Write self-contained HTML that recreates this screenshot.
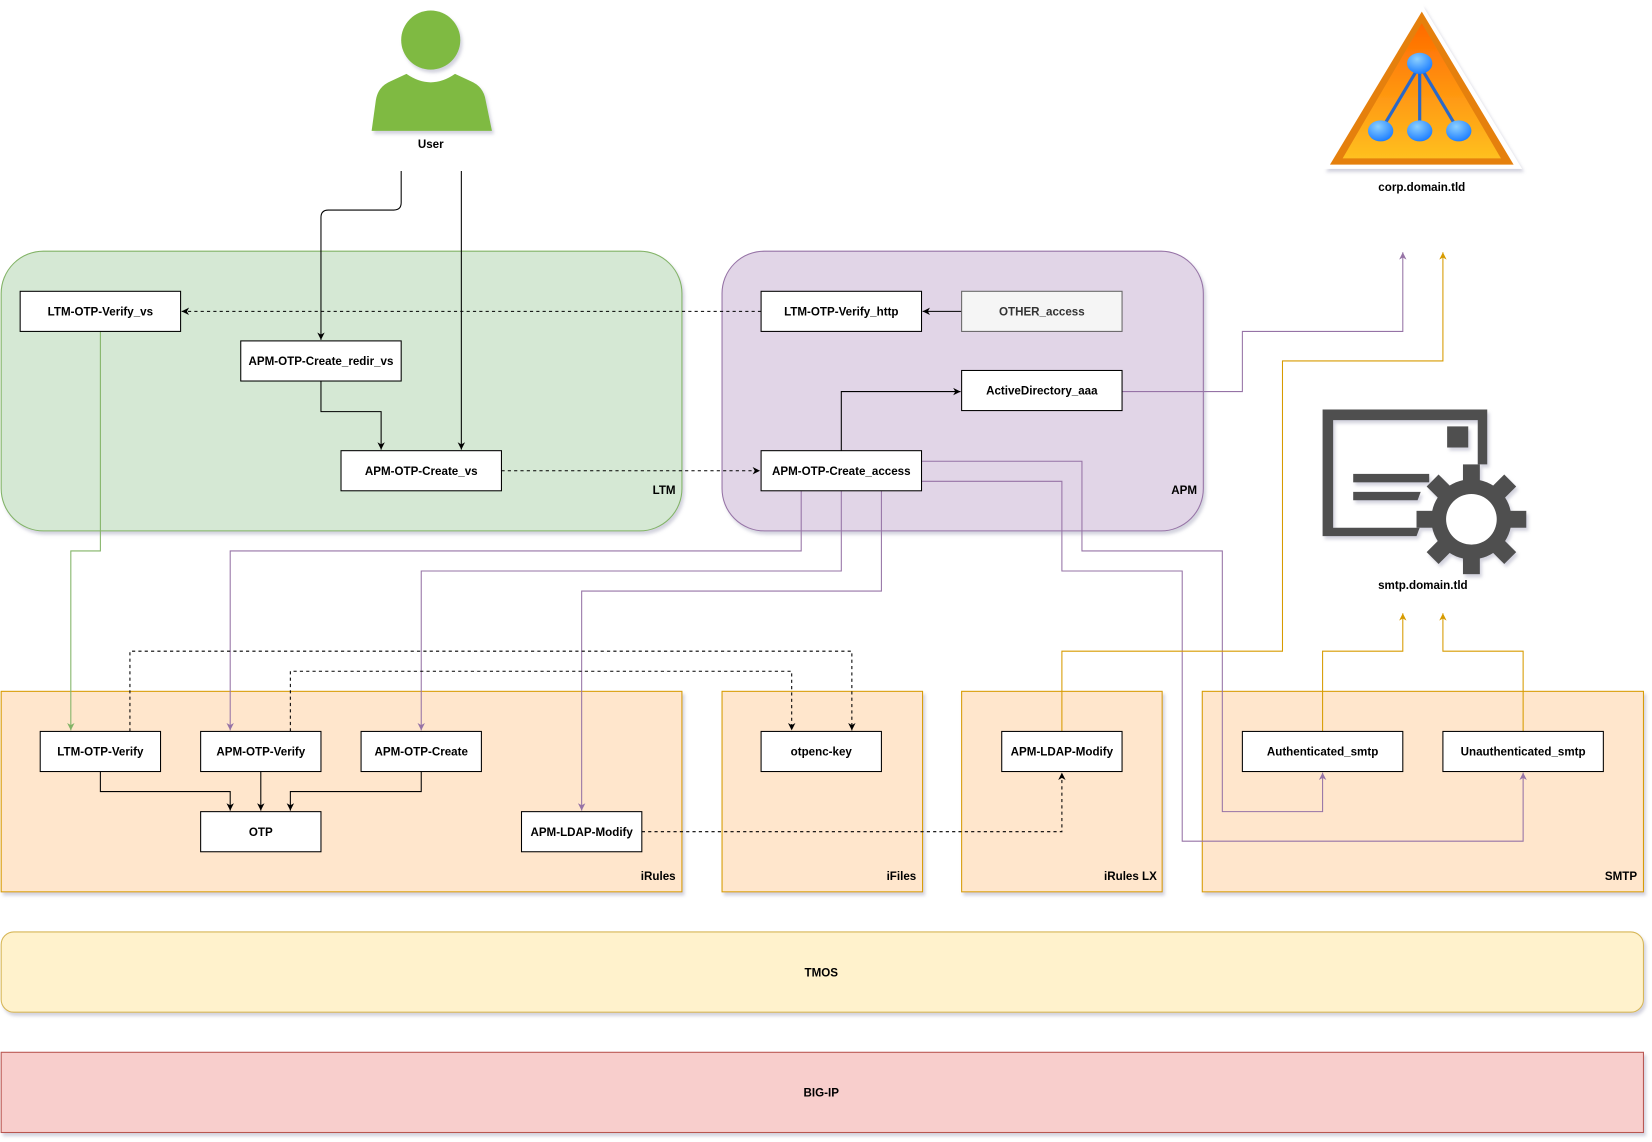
<!DOCTYPE html>
<html><head><meta charset="utf-8"><style>
html,body{margin:0;padding:0;background:#fff;}
svg{display:block;}
text{font-family:"Liberation Sans",Arial,sans-serif;font-weight:bold;font-size:11px;}
</style></head><body>
<svg width="1652" height="1142" viewBox="0 0 1565 1082" xmlns="http://www.w3.org/2000/svg">
<defs>
<filter id="sh" x="-5%" y="-5%" width="110%" height="115%"><feDropShadow dx="2" dy="3" stdDeviation="1.5" flood-color="#8080a0" flood-opacity="0.35"/></filter>
<marker id="ab" markerWidth="8" markerHeight="8" refX="7" refY="4" orient="auto" markerUnits="userSpaceOnUse"><path d="M0,0.5 L7,4 L0,7.5 L2,4z" fill="#000"/></marker>
<marker id="ap" markerWidth="8" markerHeight="8" refX="7" refY="4" orient="auto" markerUnits="userSpaceOnUse"><path d="M0,0.5 L7,4 L0,7.5 L2,4z" fill="#9673a6"/></marker>
<marker id="ag" markerWidth="8" markerHeight="8" refX="7" refY="4" orient="auto" markerUnits="userSpaceOnUse"><path d="M0,0.5 L7,4 L0,7.5 L2,4z" fill="#82b366"/></marker>
<marker id="ao" markerWidth="8" markerHeight="8" refX="7" refY="4" orient="auto" markerUnits="userSpaceOnUse"><path d="M0,0.5 L7,4 L0,7.5 L2,4z" fill="#d79b00"/></marker>
<linearGradient id="tri" x1="0" y1="0" x2="0" y2="1"><stop offset="0" stop-color="#ff6a00"/><stop offset="1" stop-color="#ffc020"/></linearGradient>
<radialGradient id="ball" cx="0.4" cy="0.3" r="0.7"><stop offset="0" stop-color="#8cd0ff"/><stop offset="1" stop-color="#1e7fff"/></radialGradient>
</defs>

<!-- groups -->
<rect x="1" y="238" width="645" height="265" rx="40" fill="#d5e8d4" stroke="#82b366" filter="url(#sh)"/>
<text x="640" y="468" text-anchor="end">LTM</text>
<rect x="684" y="238" width="456" height="265" rx="40" fill="#e1d5e7" stroke="#9673a6" filter="url(#sh)"/>
<text x="1134" y="468" text-anchor="end">APM</text>

<rect x="1" y="655" width="645" height="190" fill="#ffe6cc" stroke="#d79b00" filter="url(#sh)"/>
<text x="640" y="834" text-anchor="end">iRules</text>
<rect x="684" y="655" width="190" height="190" fill="#ffe6cc" stroke="#d79b00" filter="url(#sh)"/>
<text x="868" y="834" text-anchor="end">iFiles</text>
<rect x="911" y="655" width="190" height="190" fill="#ffe6cc" stroke="#d79b00" filter="url(#sh)"/>
<text x="1096" y="834" text-anchor="end">iRules LX</text>
<rect x="1139" y="655" width="418" height="190" fill="#ffe6cc" stroke="#d79b00" filter="url(#sh)"/>
<text x="1551" y="834" text-anchor="end">SMTP</text>

<rect x="1" y="883" width="1556" height="76" rx="12" fill="#fff2cc" stroke="#d6b656" filter="url(#sh)"/>
<text x="778" y="925" text-anchor="middle">TMOS</text>
<rect x="1" y="997" width="1556" height="76" fill="#f8cecc" stroke="#b85450" filter="url(#sh)"/>
<text x="778" y="1039" text-anchor="middle">BIG-IP</text>

<!-- user icon -->
<g filter="url(#sh)">
<circle cx="408" cy="38" r="28" fill="#7fba42"/>
<path d="M352,124 L356,95 Q358,82 370,77 L385,70 Q408,86 431,70 L446,77 Q458,82 460,95 L466,124 Z" fill="#7fba42"/>
</g>
<text x="408" y="140" text-anchor="middle">User</text>

<!-- AD triangle -->
<g filter="url(#sh)">
<path d="M1347,4 L1442,160 L1254,160 Z" fill="#fff"/>
<path d="M1347,11 L1434,156 L1260,156 Z" fill="#e5800e"/>
<path d="M1347,22 L1422,150 L1272,150 Z" fill="url(#tri)"/>
</g>
<g stroke="#2a68c8" stroke-width="3"><line x1="1345" y1="62" x2="1308" y2="124"/><line x1="1345" y1="62" x2="1345" y2="124"/><line x1="1345" y1="62" x2="1382" y2="124"/></g>
<ellipse cx="1345" cy="60" rx="12" ry="10" fill="url(#ball)"/>
<ellipse cx="1308" cy="124" rx="12" ry="10" fill="url(#ball)"/>
<ellipse cx="1345" cy="124" rx="12" ry="10" fill="url(#ball)"/>
<ellipse cx="1382" cy="124" rx="12" ry="10" fill="url(#ball)"/>
<text x="1347" y="181" text-anchor="middle">corp.domain.tld</text>

<!-- smtp icon -->
<g fill="#505050" filter="url(#sh)">
<path d="M1253,388 L1409,388 L1409,440 L1400,440 L1400,398 L1263,398 L1263,500 L1345,500 L1342,508 L1253,508 Z"/>
<rect x="1371" y="404" width="20" height="20"/>
<rect x="1282" y="449" width="72" height="8"/>
<path d="M1282,466 L1346,466 L1343,474 L1282,474 Z"/>
<g transform="translate(1394,492)">
<circle r="38"/>
<g><rect x="-8" y="-52" width="16" height="20"/><rect x="-8" y="32" width="16" height="20"/><rect x="-52" y="-8" width="20" height="16"/><rect x="32" y="-8" width="20" height="16"/></g>
<g transform="rotate(45)"><rect x="-8" y="-52" width="16" height="20"/><rect x="-8" y="32" width="16" height="20"/><rect x="-52" y="-8" width="20" height="16"/><rect x="32" y="-8" width="20" height="16"/></g>
<circle r="24" fill="#fff"/>
</g>
</g>
<text x="1348" y="558" text-anchor="middle">smtp.domain.tld</text>

<!-- connectors -->
<g fill="none" stroke-width="1">
<path d="M380,162 V192 Q380,199 373,199 H311 Q304,199 304,206 V322" stroke="#000" marker-end="url(#ab)"/>
<path d="M437,162 V426" stroke="#000" marker-end="url(#ab)"/>
<path d="M304,361 V390 H361 V426" stroke="#000" marker-end="url(#ab)"/>
<path d="M721,295 H172" stroke="#000" stroke-dasharray="3,3" marker-end="url(#ab)"/>
<path d="M475,446 H720" stroke="#000" stroke-dasharray="3,3" marker-end="url(#ab)"/>
<path d="M911,295 H874" stroke="#000" marker-end="url(#ab)"/>
<path d="M797,427 V371 H910" stroke="#000" marker-end="url(#ab)"/>
<path d="M1063,371 H1177 V314 H1329 V239" stroke="#9673a6" marker-end="url(#ap)"/>
<path d="M95,314 V522 H67 V692" stroke="#82b366" marker-end="url(#ag)"/>
<path d="M759,465 V522 H218 V692" stroke="#9673a6" marker-end="url(#ap)"/>
<path d="M797,465 V541 H399 V692" stroke="#9673a6" marker-end="url(#ap)"/>
<path d="M835,465 V560 H551 V768" stroke="#9673a6" marker-end="url(#ap)"/>
<path d="M873,437 H1025 V522 H1158 V769 H1253 V732" stroke="#9673a6" marker-end="url(#ap)"/>
<path d="M873,456 H1006 V541 H1120 V797 H1443 V732" stroke="#9673a6" marker-end="url(#ap)"/>
<path d="M1006,693 V617 H1215 V342 H1367 V239" stroke="#d79b00" marker-end="url(#ao)"/>
<path d="M1253,693 V617 H1329 V581" stroke="#d79b00" marker-end="url(#ao)"/>
<path d="M1443,693 V617 H1367 V581" stroke="#d79b00" marker-end="url(#ao)"/>
<path d="M123,693 V617 H807 V692" stroke="#000" stroke-dasharray="3,3" marker-end="url(#ab)"/>
<path d="M275,693 V636 H750 V692" stroke="#000" stroke-dasharray="3,3" marker-end="url(#ab)"/>
<path d="M95,731 V750 H218 V768" stroke="#000" marker-end="url(#ab)"/>
<path d="M247,731 V768" stroke="#000" marker-end="url(#ab)"/>
<path d="M399,731 V750 H275 V768" stroke="#000" marker-end="url(#ab)"/>
<path d="M608,788 H1006 V732" stroke="#000" stroke-dasharray="3,3" marker-end="url(#ab)"/>
</g>

<!-- nodes -->
<g stroke="#000" fill="#fff">
<rect x="19" y="276" width="152" height="38"/>
<rect x="228" y="323" width="152" height="38"/>
<rect x="323" y="427" width="152" height="38"/>
<rect x="721" y="276" width="152" height="38"/>
<rect x="911" y="351" width="152" height="38"/>
<rect x="721" y="427" width="152" height="38"/>
<rect x="38" y="693" width="114" height="38"/>
<rect x="190" y="693" width="114" height="38"/>
<rect x="342" y="693" width="114" height="38"/>
<rect x="190" y="769" width="114" height="38"/>
<rect x="494" y="769" width="114" height="38"/>
<rect x="721" y="693" width="114" height="38"/>
<rect x="949" y="693" width="114" height="38"/>
<rect x="1177" y="693" width="152" height="38"/>
<rect x="1367" y="693" width="152" height="38"/>
</g>
<rect x="911" y="276" width="152" height="38" fill="#f5f5f5" stroke="#666"/>
<g text-anchor="middle">
<text x="95" y="299">LTM-OTP-Verify_vs</text>
<text x="304" y="346">APM-OTP-Create_redir_vs</text>
<text x="399" y="450">APM-OTP-Create_vs</text>
<text x="797" y="299">LTM-OTP-Verify_http</text>
<text x="987" y="299" fill="#333">OTHER_access</text>
<text x="987" y="374">ActiveDirectory_aaa</text>
<text x="797" y="450">APM-OTP-Create_access</text>
<text x="95" y="716">LTM-OTP-Verify</text>
<text x="247" y="716">APM-OTP-Verify</text>
<text x="399" y="716">APM-OTP-Create</text>
<text x="247" y="792">OTP</text>
<text x="551" y="792">APM-LDAP-Modify</text>
<text x="778" y="716">otpenc-key</text>
<text x="1006" y="716">APM-LDAP-Modify</text>
<text x="1253" y="716">Authenticated_smtp</text>
<text x="1443" y="716">Unauthenticated_smtp</text>
</g>
</svg>
</body></html>
